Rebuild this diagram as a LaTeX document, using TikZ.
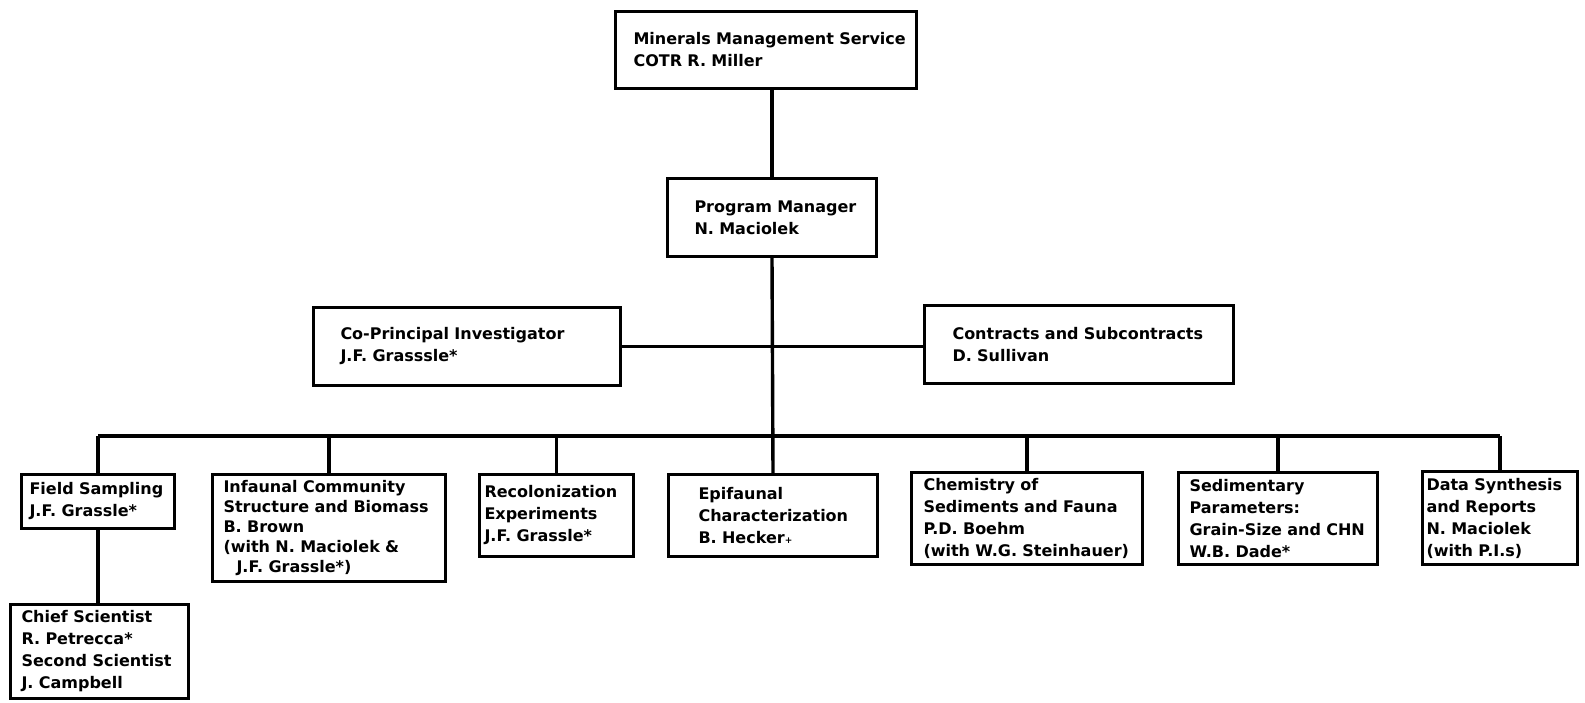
\documentclass[tikz,border=0pt]{standalone}
\usepackage{fontspec}
\setmainfont{DejaVu Sans}
\usetikzlibrary{positioning}

\begin{document}
\begin{tikzpicture}[x=1pt, y=-1pt,
  font=\fontsize{16}{22}\selectfont\bfseries,
  unit/.style n args={3}{draw, line width=3pt, anchor=north west, align=left,
    inner xsep=0pt, inner ysep=0pt, text width=#1pt, minimum height=#2pt,
    execute at begin node={\leftskip=#3pt}},
  link/.style={line width=3.4pt}]

\useasboundingbox (0,0) rectangle (1585,703);

% Management
\node[unit={301}{77}{18}] (mms) at (614,10) {Minerals Management Service\\COTR R. Miller};
\node[unit={209}{78}{27}] (pm) at (666,177) {Program Manager\\N. Maciolek};

% Staff
\node[unit={307}{78}{27}] (copi) at (312,306) {Co-Principal Investigator\\J.F. Grasssle*};
\node[unit={309}{78}{28}] (contr) at (923,304) {Contracts and Subcontracts\\D. Sullivan};

% Tasks
\node[unit={153}{54}{8}] (field) at (20,473) {Field Sampling\\J.F. Grassle*};
\node[unit={233}{107}{11}, font=\fontsize{16}{20}\selectfont\bfseries] (infauna) at (211,473) {Infaunal Community\\Structure and Biomass\\B. Brown\\(with N. Maciolek \&\\\hspace*{13pt}J.F. Grassle*)};
\node[unit={154}{82}{5}] (recol) at (478,473) {Recolonization\\Experiments\\J.F. Grassle*};
\node[unit={209}{82}{30}] (epi) at (667,473) {Epifaunal\\Characterization\\B. Hecker{\small+}};
\node[unit={231}{92}{12}] (chem) at (910,471) {Chemistry of\\Sediments and Fauna\\P.D. Boehm\\(with W.G. Steinhauer)};
\node[unit={199}{92}{11}] (sed) at (1177,471) {Sedimentary\\Parameters:\\Grain-Size and CHN\\W.B. Dade*};
\node[unit={155}{93}{4}] (data) at (1421,470) {Data Synthesis\\and Reports\\N. Maciolek\\(with P.I.s)};

% Field party
\node[unit={178}{94}{11}] (chief) at (9,603) {Chief Scientist\\R. Petrecca*\\Second Scientist\\J. Campbell};

% Lines
\coordinate (bus) at (0,436);
\draw[link] (pm.north) -- (pm.north |- mms.south);
\draw[link] (pm.south) -- (epi.north);
\draw[link] (copi.east) -- (copi.east -| contr.west);
\draw[link] (field.north |- bus) -- (data.north |- bus);
\foreach \task in {field,infauna,recol,chem,sed,data}
  \draw[link] (\task.north) -- (\task.north |- bus);
\draw[link] (field.south) -- (field.south |- chief.north);

\end{tikzpicture}
\end{document}
